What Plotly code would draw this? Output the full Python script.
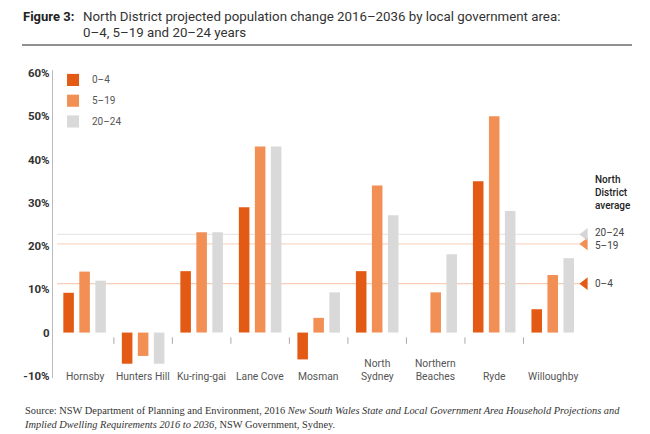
import plotly.graph_objects as go

categories = ["Hornsby", "Hunters Hill", "Ku-ring-gai", "Lane Cove", "Mosman",
              "North Sydney", "Northern Beaches", "Ryde", "Willoughby"]
category_labels = ["Hornsby", "Hunters Hill", "Ku-ring-gai", "Lane Cove", "Mosman",
                   "North<br>Sydney", "Northern<br>Beaches", "Ryde", "Willoughby"]
series_names = ["0–4", "5–19", "20–24"]
vals_0_4 = [9.2, -7.2, 14.2, 29.0, -6.2, 14.2, 0.0, 35.0, 5.4]
vals_5_19 = [14.1, -5.4, 23.2, 43.0, 3.4, 34.0, 9.3, 50.0, 13.3]
vals_20_24 = [12.0, -7.2, 23.2, 43.0, 9.3, 27.1, 18.1, 28.1, 17.2]
averages = [11.3, 20.5, 22.7]  # North District average for 0–4, 5–19, 20–24
tick_vals = [-10, 0, 10, 20, 30, 40, 50, 60]
tick_text = ["-10%", "0", "10%", "20%", "30%", "40%", "50%", "60%"]

bar_colors = ["#E35A14", "#F28F55", "#D9D9D9"]
avg_line_colors = ["#F6CDB6", "#F8D8C5", "#E8E8E8"]
tri_colors = ["#E35A14", "#F28F55", "#D5D5D5"]

# page body has an 8px margin; figure is sized so it fits the window
W, H = 642, 426
ML, MT, MR, MB = 45, 62, 61, 56
PW, PH = W - ML - MR, H - MT - MB


def px(xd):  # div pixel -> paper x
    return (xd - ML) / PW


def py(yd):  # div pixel -> paper y
    return (H - MB - yd) / PH


x_idx = list(range(len(categories)))
fig = go.Figure()
for name, vals, col in zip(series_names, [vals_0_4, vals_5_19, vals_20_24], bar_colors):
    fig.add_trace(go.Bar(x=x_idx, y=vals, name=name, marker=dict(color=col, line=dict(width=0)),
                         showlegend=False))

shapes = []
for avg, col in zip(averages, avg_line_colors):
    shapes.append(dict(type="line", xref="x", yref="y", x0=-0.47, x1=8.52, y0=avg, y1=avg,
                       line=dict(color=col, width=1.3), layer="below"))
for i in range(len(categories) - 1):
    shapes.append(dict(type="line", xref="x", yref="y", x0=i + 0.5, x1=i + 0.5, y0=-1.1, y1=-2.6,
                       line=dict(color="#AAAAAA", width=1)))
shapes.append(dict(type="line", xref="paper", yref="paper", x0=px(14), x1=px(624), y0=py(37), y1=py(37),
                   line=dict(color="#222222", width=1)))
leg_y = [58.4, 53.6, 48.8]
for yy, col in zip(leg_y, bar_colors):
    shapes.append(dict(type="rect", xref="x", yref="y", x0=-0.3, x1=-0.095, y0=yy - 1.4, y1=yy + 1.4,
                       fillcolor=col, line=dict(width=0)))
fig.update_layout(shapes=shapes)

annotations = []
for i, lab in enumerate(category_labels):
    annotations.append(dict(x=i, y=0, xref="x", yref="paper", yanchor="bottom", yshift=-7,
                            text=lab, showarrow=False,
                            font=dict(family="Roboto", size=10.3, color="#555555")))
for yy, name in zip(leg_y, series_names):
    annotations.append(dict(x=0.1, y=yy, xref="x", yref="y", xanchor="left", text=name,
                            showarrow=False, font=dict(family="Roboto", size=10, color="#555555")))
annotations.append(dict(x=px(585), y=27.7, xref="paper", yref="y", xanchor="left", yanchor="bottom",
                        text="North<br>District<br>average", showarrow=False, align="left",
                        font=dict(family="Roboto", size=10, color="#222222", weight=500)))
label_shift = [0, -2, 2]
for avg, name, ls in zip(averages, series_names, label_shift):
    annotations.append(dict(x=px(585), y=avg, xref="paper", yref="y", xanchor="left", yshift=ls,
                            text=name, showarrow=False,
                            font=dict(family="Roboto", size=10, color="#444444")))
annotations.append(dict(x=px(14), y=py(8), xref="paper", yref="paper", xanchor="left", yanchor="middle",
                        text="<b>Figure 3:</b>", showarrow=False, borderpad=0,
                        font=dict(family="Roboto", size=13, color="#222222")))
annotations.append(dict(x=px(74), y=py(8), xref="paper", yref="paper", xanchor="left", yanchor="middle",
                        text="North District projected population change 2016–2036 by local government area:",
                        showarrow=False, borderpad=0, font=dict(family="Roboto", size=13.3, color="#333333")))
annotations.append(dict(x=px(74), y=py(24.5), xref="paper", yref="paper", xanchor="left", yanchor="middle",
                        text="0–4, 5–19 and 20–24 years", showarrow=False, borderpad=0,
                        font=dict(family="Roboto", size=13.3, color="#333333")))
annotations.append(dict(x=px(14), y=py(395), xref="paper", yref="paper", xanchor="left", yanchor="top",
                        align="left", showarrow=False,
                        text="Source: NSW Department of Planning and Environment, 2016 <i>New South Wales State and Local Government Area Household Projections and</i><br><i>Implied Dwelling Requirements 2016 to 2036</i>, NSW Government, Sydney.",
                        font=dict(family="Liberation Serif", size=10.4, color="#333333")))
fig.update_layout(annotations=annotations)

fig.add_trace(go.Scatter(x=[8.55] * 3, y=averages, mode="markers", showlegend=False,
                         marker=dict(symbol="triangle-left", size=11, color=tri_colors, line=dict(width=0)),
                         cliponaxis=False))

fig.update_layout(
    width=W, height=H,
    margin=dict(l=ML, r=MR, t=MT, b=MB),
    paper_bgcolor="white", plot_bgcolor="white",
    barmode="group", bargap=0.18, bargroupgap=0.34,
    font=dict(family="Roboto"),
    xaxis=dict(range=[-0.54, 8.62], showticklabels=False, showgrid=False, zeroline=False,
               showline=False, ticks=""),
    yaxis=dict(range=[-10.5, 60.7], tickvals=tick_vals, ticktext=tick_text, showgrid=False,
               zeroline=False, showline=True, linecolor="#BBBBBB", linewidth=1.2, ticks="",
               tickfont=dict(family="Roboto", size=11.5, color="#333333", weight="bold")),
)

fig.write_html("out.html")
